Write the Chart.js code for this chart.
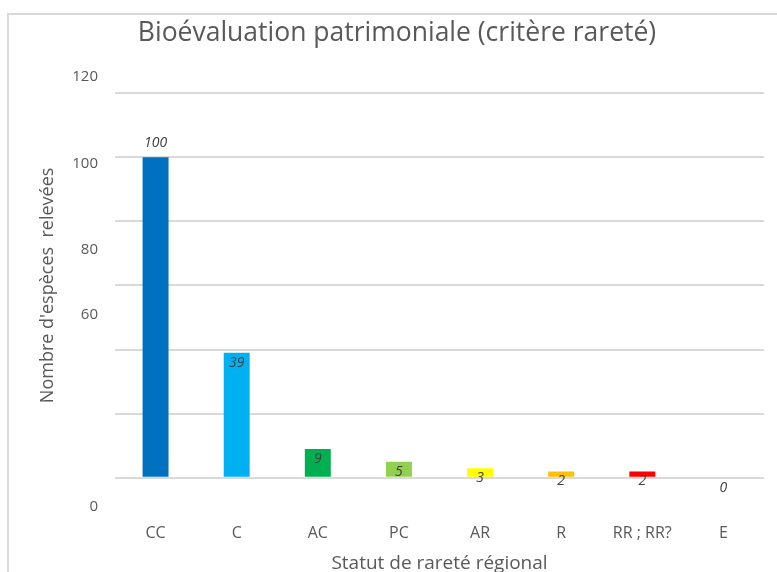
<!DOCTYPE html>
<html>
<head>
<meta charset="utf-8">
<script src="https://cdn.jsdelivr.net/npm/chart.js@4.4.1/dist/chart.umd.min.js"></script>
<style>
  html, body { margin: 0; padding: 0; overflow: hidden; background: #fff; }
  #frame { position: absolute; left: 7px; top: 13px; width: 800px; height: 600px; border: 2px solid #d9d9d9; }
  #chart { position: absolute; left: 0; top: 0; }
</style>
</head>
<body>
<div id="frame"></div>
<canvas id="chart" width="777" height="600"></canvas>
<script>
// rarity classes and number of species recorded in each
const categories = ['CC', 'C', 'AC', 'PC', 'AR', 'R', 'RR ; RR?', 'E']
const speciesCounts = [100, 39, 9, 5, 3, 2, 2, 0]

// y labels as they are printed, and the axis level each one sits at
const yTickLabels = ['120', '100', '80', '60', '0']
const yTickLevels = [125, 98, 71, 51, -9]

const barColors = ['#0070C0', '#00B0F0', '#00B050', '#92D050', '#FFFF00', '#FFC000', '#FF0000', '#C00000']
const textColor = '#595959'
const font = 'Open Sans'

const yLabels = {
  id: 'yLabels',
  afterDraw(chart) {
    const {ctx, chartArea, scales: {y}} = chart
    ctx.save()
    ctx.font = '15px "' + font + '"'
    ctx.fillStyle = textColor
    ctx.textAlign = 'right'
    ctx.textBaseline = 'middle'
    yTickLabels.forEach((t, i) => {
      ctx.fillText(t, chartArea.left - 17, y.getPixelForValue(yTickLevels[i]))
    })
    ctx.restore()
  }
}

// value labels: above the tallest bar, just under the top of the others
const valueLabels = {
  id: 'valueLabels',
  afterDatasetsDraw(chart) {
    const {ctx} = chart
    const meta = chart.getDatasetMeta(0)
    const max = Math.max(...speciesCounts)
    ctx.save()
    ctx.font = 'italic 14px "' + font + '"'
    ctx.fillStyle = '#404040'
    ctx.textAlign = 'center'
    ctx.textBaseline = 'middle'
    meta.data.forEach((bar, i) => {
      const v = speciesCounts[i]
      const ty = v === max ? bar.y - 14 : bar.y + 10
      ctx.fillText(String(v), bar.x, ty)
    })
    ctx.restore()
  }
}

let ctx = document.getElementById('chart').getContext('2d')

new Chart(ctx, {
  type: 'bar',
  data: {
    labels: categories,
    datasets: [{
      data: speciesCounts,
      backgroundColor: barColors,
      barPercentage: 0.32,
      categoryPercentage: 1
    }]
  },
  options: {
    responsive: false,
    animation: false,
    layout: { padding: { left: 30, right: 13, top: 0, bottom: 20.6 } },
    plugins: {
      legend: { display: false },
      tooltip: { enabled: false },
      title: {
        display: true,
        text: 'Bioévaluation patrimoniale (critère rareté)',
        color: textColor,
        font: { family: font, size: 26.5, weight: 'normal' },
        padding: { top: 17.1, bottom: 44.1 }
      }
    },
    scales: {
      x: {
        grid: { display: false },
        border: { display: false },
        ticks: { color: textColor, font: { family: font, size: 16 }, padding: 38, maxRotation: 0 },
        title: {
          display: true,
          text: 'Statut de rareté régional',
          color: textColor,
          font: { family: font, size: 19 },
          padding: { top: -28.4, bottom: 4 }
        }
      },
      y: {
        min: 0,
        max: 120,
        ticks: { display: false, stepSize: 20 },
        grid: { color: '#d9d9d9', lineWidth: 2, drawTicks: false },
        border: { display: false },
        title: {
          display: true,
          text: "Nombre d'espèces  relevées",
          color: textColor,
          font: { family: font, size: 18 },
          padding: { top: 7.2, bottom: 56.2 }
        }
      }
    }
  },
  plugins: [yLabels, valueLabels]
})
</script>
</body>
</html>
